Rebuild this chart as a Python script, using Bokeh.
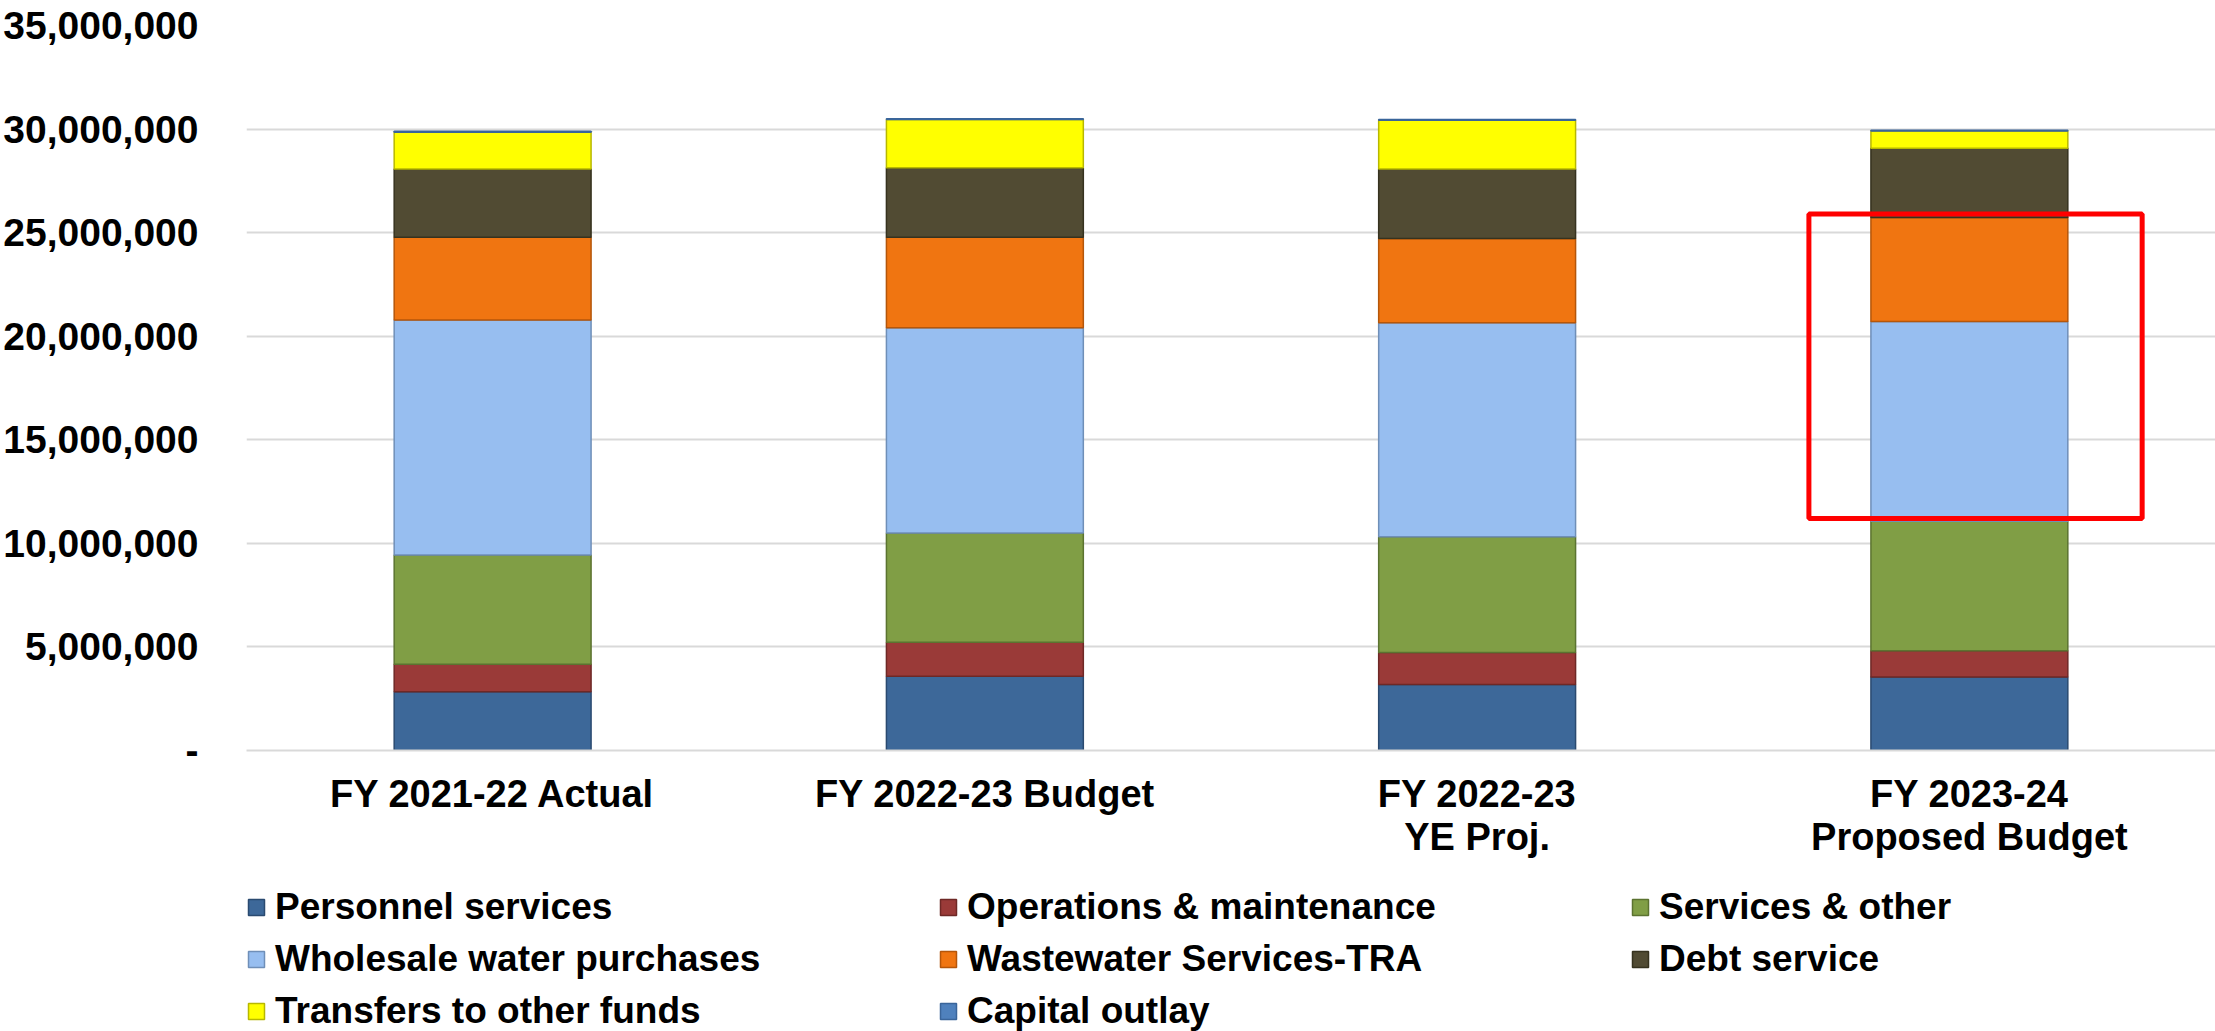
from bokeh.plotting import figure
from bokeh.layouts import column
from bokeh.models import (ColumnDataSource, FactorRange, Range1d, FixedTicker,
                          NumeralTickFormatter, Legend, LegendItem, BoxAnnotation)
from bokeh.embed import file_html
from bokeh.resources import INLINE

# ---- data ----
categories = ["FY 2021-22 Actual", "FY 2022-23 Budget", "FY 2022-23\nYE Proj.",
              "FY 2023-24\nProposed Budget"]
personnel_services = [2840000, 3590000, 3190000, 3550000]
operations_maintenance = [1320000, 1630000, 1540000, 1260000]
services_other = [5280000, 5280000, 5590000, 6260000]
wholesale_water = [11340000, 9910000, 10330000, 9640000]
wastewater_tra = [4000000, 4370000, 4070000, 5020000]
debt_service = [3290000, 3350000, 3350000, 3350000]
transfers_other = [1780000, 2330000, 2350000, 830000]
capital_outlay = [50000, 40000, 40000, 30000]

series_names = ["Personnel services", "Operations & maintenance", "Services & other",
                "Wholesale water purchases", "Wastewater Services-TRA", "Debt service",
                "Transfers to other funds", "Capital outlay"]
series_keys = ["personnel", "om", "services", "wholesale", "wastewater", "debt",
               "transfers", "capital"]
series_values = [personnel_services, operations_maintenance, services_other,
                 wholesale_water, wastewater_tra, debt_service, transfers_other,
                 capital_outlay]
fill_colors = ["#3D6899", "#9A3A38", "#809E45", "#97BEF0", "#F07511", "#514B33",
               "#FFFF00", "#4F81BD"]
edge_colors = ["#2A4A70", "#6E2826", "#5B7330", "#6F8FB8", "#B5560A", "#36321F",
               "#B8B800", "#3A659A"]

y_ticks = [0, 5000000, 10000000, 15000000, 20000000, 25000000, 30000000, 35000000]
y_max = 35000000

# highlighted region (red box) on the proposed budget bar
highlight_category_index = 3
highlight_low = 11200000
highlight_high = 25900000

data = {"cat": categories}
for k, v in zip(series_keys, series_values):
    data[k] = v
source = ColumnDataSource(data)

FONT = "Liberation Sans"
W = 2215
MAIN_H = 862
LEG_H = 169

p = figure(x_range=FactorRange(*categories), y_range=Range1d(0, y_max),
           width=W, height=MAIN_H, output_backend="svg", toolbar_location=None,
           min_border_left=242, min_border_top=25, min_border_right=0,
           min_border_bottom=112)
p.outline_line_color = None
p.background_fill_color = "white"

renderers = p.vbar_stack(series_keys, x="cat", width=0.40, source=source,
                         fill_color=fill_colors, line_color=edge_colors, line_width=1.5)

# axes
p.yaxis.ticker = FixedTicker(ticks=y_ticks)
p.yaxis.formatter = NumeralTickFormatter(format="0,0")
p.yaxis.major_label_overrides = {0: "-"}
p.yaxis.axis_line_color = None
p.yaxis.major_tick_line_color = None
p.yaxis.minor_tick_line_color = None
p.yaxis.major_label_standoff = 42
p.yaxis.major_label_text_font = FONT
p.yaxis.major_label_text_font_style = "bold"
p.yaxis.major_label_text_font_size = "39px"
p.yaxis.major_label_text_color = "black"

p.xaxis.axis_line_color = "#D9D9D9"
p.xaxis.axis_line_width = 2
p.xaxis.major_tick_line_color = None
p.xaxis.minor_tick_line_color = None
p.xaxis.major_label_standoff = 16
p.xaxis.major_label_text_font = FONT
p.xaxis.major_label_text_font_style = "bold"
p.xaxis.major_label_text_font_size = "38px"
p.xaxis.major_label_text_color = "black"
p.xaxis.major_label_text_line_height = 1.03

p.xgrid.grid_line_color = None
p.ygrid.grid_line_color = "#D9D9D9"
p.ygrid.grid_line_width = 2

# red highlight box
hx = highlight_category_index + 0.5
p.add_layout(BoxAnnotation(left=hx - 0.326, right=hx + 0.351,
                           bottom=highlight_low, top=highlight_high,
                           fill_alpha=0, line_color="#FF0000", line_alpha=1.0,
                           line_width=5))

# ---- legend strip below the chart (hidden proxy renderers supply the swatches) ----
lp = figure(width=W, height=LEG_H, x_range=FactorRange(*categories),
            y_range=Range1d(0, y_max), output_backend="svg",
            toolbar_location=None, min_border=0,
            x_axis_location=None, y_axis_location=None)
lp.outline_line_color = None
lp.xgrid.grid_line_color = None
lp.ygrid.grid_line_color = None
proxies = lp.vbar_stack(series_keys, x="cat", width=0.40, source=source,
                        fill_color=fill_colors, line_color=edge_colors, line_width=1.5)
for r in proxies:
    r.visible = False
items = [LegendItem(label=n, renderers=[r]) for n, r in zip(series_names, proxies)]
legend = Legend(items=items, orientation="horizontal", ncols=3,
                location=(0, -2), padding=0, margin=0, spacing=8,
                glyph_width=20, glyph_height=20, label_standoff=9,
                label_width=655, label_height=44,
                label_text_font=FONT, label_text_font_style="bold",
                label_text_font_size="37px", label_text_color="black",
                inactive_fill_alpha=0,
                background_fill_alpha=0, border_line_alpha=0)
lp.add_layout(legend, "center")

layout = column(p, lp, spacing=0)
open("out.html", "w").write(file_html(layout, INLINE))
